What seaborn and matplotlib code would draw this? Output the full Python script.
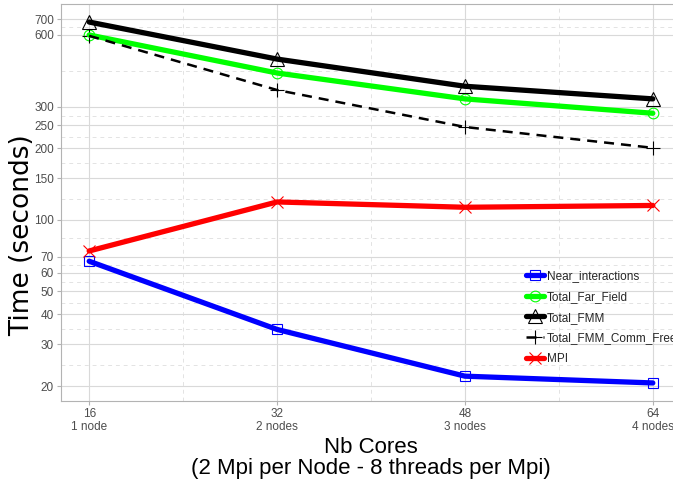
import numpy as np
import pandas as pd
import matplotlib
matplotlib.use('Agg')
import matplotlib.pyplot as plt
import seaborn as sns
from matplotlib.lines import Line2D
from matplotlib.ticker import FixedLocator, NullFormatter

# Datos
cores = [16, 32, 48, 64]
core_labels = ['16\n1 node', '32\n2 nodes', '48\n3 nodes', '64\n4 nodes']
near_interactions = [67, 34.6, 22, 20.6]
total_far_field = [600, 415, 323, 281]
total_fmm = [680, 475, 365, 323]
total_fmm_comm_free = [595, 352, 246, 201]
mpi = [74, 119, 113, 115]
y_breaks = [20, 30, 40, 50, 60, 70, 100, 150, 200, 250, 300, 600, 700]

series = [
    ('Near_interactions', near_interactions, '#0000FF', 's', 7.7, 3.8, '-'),
    ('Total_Far_Field', total_far_field, '#00FF00', 'o', 7.7, 3.8, '-'),
    ('Total_FMM', total_fmm, 'black', '^', 10, 3.8, '-'),
    ('Total_FMM_Comm_Free', total_fmm_comm_free, 'black', '+', 10, 1.8, '--'),
    ('MPI', mpi, '#FF0000', 'x', 8, 3.8, '-'),
]

sns.set_theme(style='white')
plt.rcParams['font.family'] = ['Liberation Sans', 'DejaVu Sans']

fig = plt.figure(figsize=(6.73, 4.82), dpi=100)
ax = fig.add_axes([61 / 673, 1 - 401 / 482, 620 / 673, 397 / 482])

handles = []
for name, vals, color, marker, ms, lw, ls in series:
    # puntos huecos debajo de la linea
    sns.lineplot(x=cores, y=vals, ax=ax, marker=marker, markersize=ms,
                 markerfacecolor='none', markeredgecolor=color, color=color,
                 markeredgewidth=0.8, linestyle='', zorder=2)
    line = sns.lineplot(x=cores, y=vals, ax=ax, color=color, linewidth=lw, zorder=3)
    l = line.get_lines()[-1]
    l.set_linestyle(ls)
    if ls == '--':
        l.set_dashes((4, 2.8))
    handles.append(Line2D([], [], color=color, lw=lw, ls=ls, marker=marker, markersize=ms,
                          markerfacecolor='none', markeredgecolor=color, markeredgewidth=0.8,
                          dashes=(4, 2.8) if ls == '--' else (None, None)))

ax.set_yscale('log')
lo, hi = np.log10(min(near_interactions)), np.log10(max(total_fmm))
pad = 0.05 * (hi - lo)
ax.set_ylim(10 ** (lo - pad), 10 ** (hi + pad))
ax.set_xlim(16 - 2.4, 64 + 2.4)

ax.yaxis.set_major_locator(FixedLocator(y_breaks))
ax.set_yticklabels([str(b) for b in y_breaks])
minor_y = [np.sqrt(a * b) for a, b in zip(y_breaks[:-1], y_breaks[1:])]
ax.yaxis.set_minor_locator(FixedLocator(minor_y))
ax.yaxis.set_minor_formatter(NullFormatter())
ax.set_xticks(cores)
ax.set_xticklabels(core_labels)
ax.xaxis.set_minor_locator(FixedLocator([24, 40, 56]))

ax.grid(which='major', color='#D9D9D9', lw=0.8, ls='-')
ax.grid(which='minor', color='#E3E3E3', lw=0.7, ls=(0, (4, 4)))
ax.set_axisbelow(True)
for s in ax.spines.values():
    s.set_color('#B3B3B3')
    s.set_linewidth(0.8)
ax.tick_params(which='major', length=3, width=0.8, color='#B3B3B3', labelcolor='#4D4D4D',
               labelsize=8.5, pad=2, left=True, bottom=True)
ax.tick_params(which='minor', length=0)
for t in ax.get_xticklabels():
    t.set_linespacing(1.1)

ax.set_ylabel('Time (seconds)', fontsize=19, color='black', family=['DejaVu Sans'])
ax.yaxis.set_label_coords(-0.041, 0.418)
ax.set_xlabel('Nb Cores\n(2 Mpi per Node - 8 threads per Mpi)', fontsize=16,
              color='black', linespacing=1.0, labelpad=3)

fig.legend(handles=handles, labels=[s[0] for s in series], loc='upper left',
           bbox_to_anchor=(520 / 673, 1 - 264 / 482), frameon=False, fontsize=8.5,
           handlelength=1.5, handletextpad=0.3, labelspacing=0.75, borderpad=0)

fig.savefig('out.png', dpi=100)
